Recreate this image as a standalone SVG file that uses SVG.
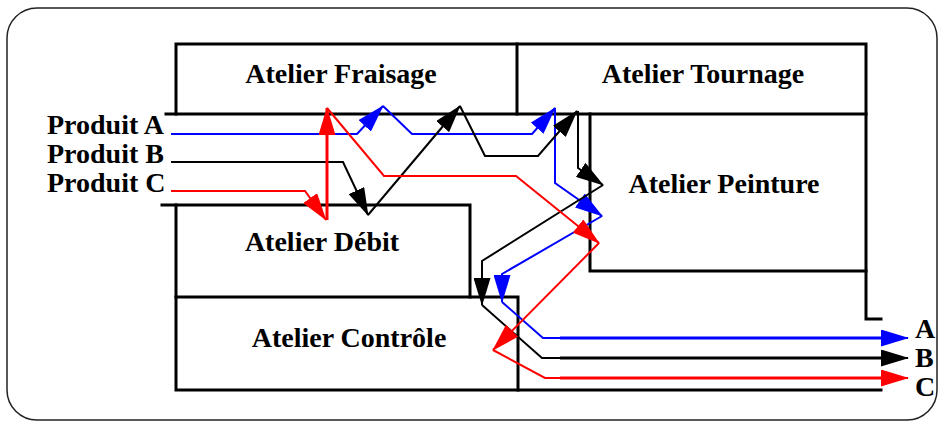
<svg xmlns="http://www.w3.org/2000/svg" width="943" height="427" viewBox="0 0 943 427">
<style>
.wall{fill:none;stroke:#000;stroke-width:3;stroke-linecap:square}
.lbl{font-family:"Liberation Serif","Times New Roman",serif;font-weight:bold;font-size:28px;fill:#000}
.mid{text-anchor:middle}
.c{fill:none;stroke-width:2;stroke-linejoin:miter}
.thick{stroke-width:3}
.blue{stroke:#0000ff}
.black{stroke:#000}
.red{stroke:#ff0000}
</style>
<defs>
<marker id="mb" markerUnits="userSpaceOnUse" markerWidth="28" markerHeight="17" refX="27" refY="8.5" orient="auto" viewBox="0 0 28 17"><path d="M0,0 L28,8.5 L0,17 z" fill="#0000ff"/></marker>
<marker id="mk" markerUnits="userSpaceOnUse" markerWidth="28" markerHeight="17" refX="27" refY="8.5" orient="auto" viewBox="0 0 28 17"><path d="M0,0 L28,8.5 L0,17 z" fill="#000"/></marker>
<marker id="mr" markerUnits="userSpaceOnUse" markerWidth="28" markerHeight="17" refX="27" refY="8.5" orient="auto" viewBox="0 0 28 17"><path d="M0,0 L28,8.5 L0,17 z" fill="#ff0000"/></marker>
</defs>
<rect x="0" y="0" width="943" height="427" fill="#fff"/>
<rect id="frame" x="7" y="8" width="930" height="412" rx="30" ry="30" fill="none" stroke="#222" stroke-width="1.5"/>
<g id="walls">
<path class="wall" d="M176,114 V44 H866 V319 H881"/>
<path class="wall" d="M517,44 V114"/>
<path class="wall" d="M166,114 H866"/>
<path class="wall" d="M590,114 V271 H866"/>
<path class="wall" d="M162,205 H470 V297"/>
<path class="wall" d="M176,205 V390 H881"/>
<path class="wall" d="M176,297 H518 V390"/>
</g>
<g id="atelier-fraisage"><text class="lbl mid" x="341" y="83">Atelier Fraisage</text></g>
<g id="atelier-tournage"><text class="lbl mid" x="703" y="83">Atelier Tournage</text></g>
<g id="atelier-peinture"><text class="lbl mid" x="724" y="193">Atelier Peinture</text></g>
<g id="atelier-debit"><text class="lbl mid" x="322" y="251">Atelier Débit</text></g>
<g id="atelier-controle"><text class="lbl mid" x="349" y="347">Atelier Contrôle</text></g>
<g id="produit-a"><text class="lbl" x="47" y="134">Produit A</text></g>
<g id="produit-b"><text class="lbl" x="47" y="163">Produit B</text></g>
<g id="produit-c"><text class="lbl" x="47" y="192">Produit C</text></g>
<g id="sortie-a"><text class="lbl" x="915" y="338">A</text></g>
<g id="sortie-b"><text class="lbl" x="915" y="367">B</text></g>
<g id="sortie-c"><text class="lbl" x="915" y="396">C</text></g>
<g id="connectors">
<path class="c blue" marker-end="url(#mb)" d="M171,134 H357 L383,106"/>
<path class="c blue" marker-end="url(#mb)" d="M383,106 L412,134 H532 L555,108"/>
<path class="c blue" marker-end="url(#mb)" d="M555,108 V183 L602,216"/>
<path class="c blue" marker-end="url(#mb)" d="M602,216 L502,274 V302"/>
<path class="c blue" marker-end="url(#mb)" d="M502,302 L543,338 H908"/>
<path class="c blue thick" d="M560,338 H885"/>
<path class="c black" marker-end="url(#mk)" d="M171,162 H343 L368,215"/>
<path class="c black" marker-end="url(#mk)" d="M368,215 L460,106"/>
<path class="c black" marker-end="url(#mk)" d="M460,106 L485,156 H538 L577,111"/>
<path class="c black" marker-end="url(#mk)" d="M578,111 V168 L603,185"/>
<path class="c black" marker-end="url(#mk)" d="M603,185 L482,261 V305"/>
<path class="c black" marker-end="url(#mk)" d="M482,305 L542,358 H908"/>
<path class="c black thick" d="M560,358 H885"/>
<path class="c red" marker-end="url(#mr)" d="M171,191 H305 L326,220"/>
<path class="c red thick" marker-end="url(#mr)" d="M327,220 V108"/>
<path class="c red" marker-end="url(#mr)" d="M327,108 L384,176 H516 L599,243"/>
<path class="c red" marker-end="url(#mr)" d="M599,243 L493,350"/>
<path class="c red" marker-end="url(#mr)" d="M493,350 L545,378 H908"/>
<path class="c red thick" d="M560,378 H885"/>
</g>
</svg>
